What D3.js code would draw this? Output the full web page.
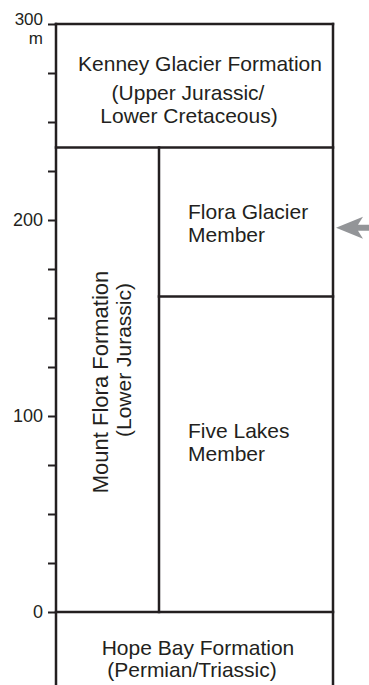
<!DOCTYPE html>
<html>
<head>
<meta charset="utf-8">
<script src="https://cdn.jsdelivr.net/npm/d3@7"></script>
<style>
  html, body { margin: 0; padding: 0; background: #fff; }
  svg { display: block; }
  text { font-family: "Liberation Sans", Arial, sans-serif; fill: #231f20; }
</style>
</head>
<body>
<svg id="chart" width="369" height="685"></svg>
<script>
// ---- data (metres) ----
const tickValues = [0, 25, 50, 75, 100, 125, 150, 175, 200, 225, 250, 275, 300];
const tickLabels = ["0", "", "", "", "100", "", "", "", "200", "", "", "", "300"];
const unitUnit = "m";
const kenneyBase = 237;       // base of Kenney Glacier Formation
const floraBase = 161;        // base of Flora Glacier Member
const sectionTop = 300;
const sectionBottom = -37;
const arrowLevel = 196;
const kenneyLines = ["Kenney Glacier Formation", "(Upper Jurassic/", "Lower Cretaceous)"];
const mountFloraLines = ["Mount Flora Formation", "(Lower Jurassic)"];
const floraLines = ["Flora Glacier", "Member"];
const fiveLakesLines = ["Five Lakes", "Member"];
const hopeBayLines = ["Hope Bay Formation", "(Permian/Triassic)"];

// ---- layout ----
const W = 369, H = 685;
const xLeft = 56, xDiv = 159, xRight = 333;
const y = d3.scaleLinear().domain([0, 300]).range([612, 24]);
const ink = "#231f20";
const svg = d3.select("#chart");

// axis
const axis = d3.axisLeft(y)
  .tickValues(tickValues)
  .tickSize(8)
  .tickSizeOuter(0)
  .tickFormat((d, i) => tickLabels[i]);
const ag = svg.append("g").attr("transform", `translate(${xLeft},0)`).call(axis);
ag.select(".domain").remove();
ag.selectAll(".tick line").attr("stroke", ink).attr("stroke-width", 2);
ag.selectAll(".tick text")
  .attr("x", -13)
  .attr("font-size", 18)
  .attr("font-family", "Liberation Sans, Arial, sans-serif")
  .attr("fill", ink);
ag.selectAll(".tick").filter(d => d === 300).select("text")
  .attr("font-size", 17).attr("dy", "0.02em");
svg.append("text").attr("x", 43).attr("y", 44).attr("text-anchor", "end")
  .attr("font-size", 17).text(unitUnit);

// frame lines
const lines = [
  [xLeft, y(sectionBottom), xLeft, y(sectionTop)],
  [xRight, y(sectionBottom), xRight, y(sectionTop)],
  [xLeft, y(sectionTop), xRight, y(sectionTop)],
  [xLeft, y(kenneyBase), xRight, y(kenneyBase)],
  [xDiv, y(floraBase), xRight, y(floraBase)],
  [xLeft, y(0), xRight, y(0)],
  [xDiv, y(0), xDiv, y(kenneyBase)]
];
svg.append("g").selectAll("line").data(lines).join("line")
  .attr("x1", d => d[0]).attr("y1", d => d[1])
  .attr("x2", d => d[2]).attr("y2", d => d[3])
  .attr("stroke", ink).attr("stroke-width", 2.5).attr("stroke-linecap", "square");

// labels
const fs = 21;
function block(lines, xs, ys, anchor) {
  lines.forEach((t, i) => {
    svg.append("text").attr("x", xs[i]).attr("y", ys[i])
      .attr("text-anchor", anchor).attr("font-size", fs).text(t);
  });
}
block(kenneyLines, [200, 188, 189], [71, 100, 123], "middle");
block(floraLines, [188, 188], [219, 242], "start");
block(fiveLakesLines, [188, 188], [438, 461], "start");
block(hopeBayLines, [198, 192], [655, 677], "middle");

// rotated Mount Flora labels
const mfx = [108, 131];
const mfy = [382, 360];
mountFloraLines.forEach((t, i) => {
  svg.append("text")
    .attr("transform", `translate(${mfx[i]},${mfy[i]}) rotate(-90)`)
    .attr("text-anchor", "middle").attr("font-size", i === 0 ? 22 : fs).text(t);
});

// arrow
const ay = y(arrowLevel);
const ax = xRight + 3;
const arrowPts = [
  [ax, ay], [ax + 27, ay - 11], [ax + 22, ay - 3], [W, ay - 3],
  [W, ay + 3], [ax + 22, ay + 3], [ax + 27, ay + 11]
];
svg.append("path").attr("d", d3.line()(arrowPts) + "Z").attr("fill", "#939598");
</script>
</body>
</html>
